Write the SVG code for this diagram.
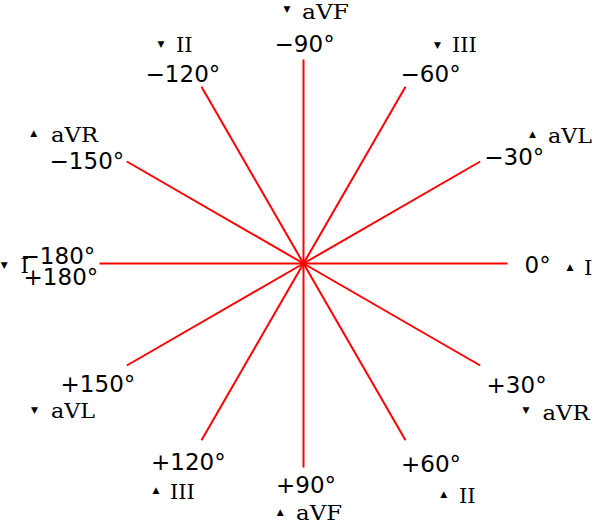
<svg xmlns="http://www.w3.org/2000/svg" width="595" height="522" viewBox="0 0 595 522">
<style>
.deg{font-family:"DejaVu Sans",sans-serif;font-size:23px;fill:#000}
.lead{font-family:"DejaVu Serif",serif;font-size:21px;fill:#000}
.tri{font-family:"DejaVu Sans",sans-serif;font-size:9px;fill:#000;text-anchor:middle}
.axis line{stroke:#ff0000;stroke-width:2}
</style>
<rect width="595" height="522" fill="#fff"/>
<g id="connectors" class="axis">
<line x1="303.5" y1="263.5" x2="507.5" y2="263.5"/>
<line x1="303.5" y1="263.5" x2="480.2" y2="161.5"/>
<line x1="303.5" y1="263.5" x2="405.5" y2="86.8"/>
<line x1="303.5" y1="263.5" x2="303.5" y2="59.5"/>
<line x1="303.5" y1="263.5" x2="201.5" y2="86.8"/>
<line x1="303.5" y1="263.5" x2="126.8" y2="161.5"/>
<line x1="303.5" y1="263.5" x2="99.5" y2="263.5"/>
<line x1="303.5" y1="263.5" x2="126.8" y2="365.5"/>
<line x1="303.5" y1="263.5" x2="201.5" y2="440.2"/>
<line x1="303.5" y1="263.5" x2="303.5" y2="467.5"/>
<line x1="303.5" y1="263.5" x2="405.5" y2="440.2"/>
<line x1="303.5" y1="263.5" x2="480.2" y2="365.5"/>
</g>
<g id="n-m90">
<text class="tri" x="287" y="12">▼</text>
<text class="lead" x="302" y="18.5" textLength="47" lengthAdjust="spacingAndGlyphs">aVF</text>
<text class="deg" x="274.6" y="52">−90°</text>
</g>
<g id="n-m120">
<text class="tri" x="161" y="47">▼</text>
<text class="lead" x="176" y="52">II</text>
<text class="deg" x="145.6" y="82">−120°</text>
</g>
<g id="n-m60">
<text class="tri" x="437.5" y="48">▼</text>
<text class="lead" x="452" y="52">III</text>
<text class="deg" x="400.6" y="82">−60°</text>
</g>
<g id="n-m150">
<text class="tri" x="33.7" y="136">▲</text>
<text class="lead" x="51" y="142" textLength="47" lengthAdjust="spacingAndGlyphs">aVR</text>
<text class="deg" x="49.6" y="169">−150°</text>
</g>
<g id="n-m30">
<text class="tri" x="532.5" y="137">▲</text>
<text class="lead" x="548" y="143" textLength="44" lengthAdjust="spacingAndGlyphs">aVL</text>
<text class="deg" x="484.3" y="165">−30°</text>
</g>
<g id="n-180">
<text class="tri" x="4.2" y="268">▼</text>
<text class="lead" x="20.5" y="273">I</text>
<text class="deg" x="20.6" y="264">−180°</text>
<text class="deg" x="23.6" y="285">+180°</text>
</g>
<g id="n-0">
<text class="deg" x="524.5" y="273">0°</text>
<text class="tri" x="570" y="270">▲</text>
<text class="lead" x="584" y="275">I</text>
</g>
<g id="n-p30">
<text class="deg" x="486.6" y="393">+30°</text>
<text class="tri" x="526" y="412.5">▼</text>
<text class="lead" x="542.5" y="420" textLength="47" lengthAdjust="spacingAndGlyphs">aVR</text>
</g>
<g id="n-p150">
<text class="deg" x="60.6" y="392">+150°</text>
<text class="tri" x="34.5" y="413">▼</text>
<text class="lead" x="51" y="418" textLength="44" lengthAdjust="spacingAndGlyphs">aVL</text>
</g>
<g id="n-p120">
<text class="deg" x="151" y="470">+120°</text>
<text class="tri" x="156" y="493">▲</text>
<text class="lead" x="170" y="499">III</text>
</g>
<g id="n-p90">
<text class="deg" x="276" y="493">+90°</text>
<text class="tri" x="280.3" y="515">▲</text>
<text class="lead" x="296" y="520" textLength="46" lengthAdjust="spacingAndGlyphs">aVF</text>
</g>
<g id="n-p60">
<text class="deg" x="401" y="472">+60°</text>
<text class="tri" x="443.7" y="497">▲</text>
<text class="lead" x="459" y="503">II</text>
</g>
</svg>
